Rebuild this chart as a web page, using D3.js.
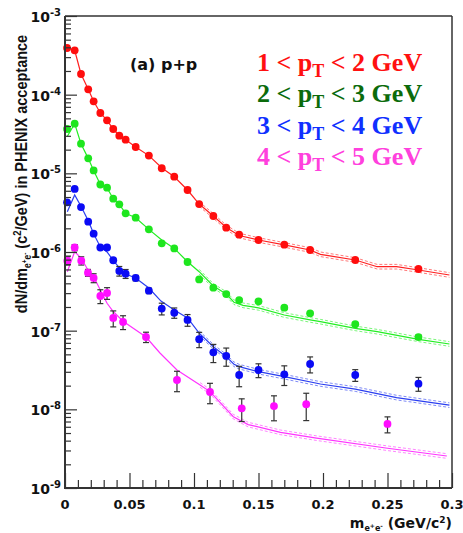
<!DOCTYPE html>
<html><head><meta charset="utf-8">
<script src="https://cdn.jsdelivr.net/npm/d3@7"></script>
<style>body{margin:0;background:#fff}svg{display:block}</style>
</head><body><svg id="c" width="463" height="533"></svg>
<script>
// ---------- data ----------
const massBins = [0.0016,0.0075,0.0124,0.018,0.0222,0.0274,0.0326,0.0374,0.0421,0.047,0.0548,0.065,0.0750,0.0847,0.095,0.104,0.115,0.125,0.135,0.15,0.17,0.19,0.225,0.274];
const redVals = [3.92e-4,3.66e-4,1.83e-4,1.17e-4,8.24e-5,5.85e-5,4.72e-5,3.66e-5,3.01e-5,2.68e-5,2.16e-5,1.68e-5,1.16e-5,9.06e-6,6.14e-6,4.07e-6,2.87e-6,2.04e-6,1.66e-6,1.42e-6,1.24e-6,1.06e-6,7.91e-7,6.08e-7];
const greenVals = [3.66e-5,4.28e-5,2.38e-5,1.55e-5,1.09e-5,7.21e-6,6.57e-6,4.76e-6,4.04e-6,3.10e-6,2.73e-6,1.94e-6,1.29e-6,1.11e-6,7.46e-7,4.48e-7,3.52e-7,2.92e-7,2.45e-7,2.36e-7,1.96e-7,1.66e-7,1.21e-7,8.3e-8];
const greenErr = [0,0,0,0,0,0,0,0,0,0,0,0,0,0,0,0.04,0.04,0.04,0.04,0.04,0.05,0.05,0.05,0.06];
const blueVals = [4.28e-6,6.33e-6,3.73e-6,2.43e-6,1.71e-6,1.14e-6,1.14e-6,7.85e-7,5.74e-7,5.30e-7,4.67e-7,3.22e-7,1.91e-7,1.69e-7,1.37e-7,7.8e-8,5.31e-8,4.77e-8,2.73e-8,3.16e-8,2.79e-8,3.77e-8,2.73e-8,2.12e-8];
const blueErr = [0,0,0,0,0,0,0.04,0.05,0.14,0.13,0.08,0.08,0.17,0.15,0.17,0.22,0.26,0.26,0.29,0.2,0.28,0.23,0.17,0.2];
const pinkMass = [0.0018,0.0075,0.0126,0.0178,0.0222,0.0274,0.0326,0.0374,0.045,0.0628,0.0868,0.1124,0.137,0.162,0.187,0.25];
const pinkVals = [7.76e-7,1.14e-6,7.76e-7,5.46e-7,4.68e-7,2.76e-7,3.01e-7,1.45e-7,1.29e-7,8.31e-8,2.36e-8,1.66e-8,1.03e-8,1.10e-8,1.16e-8,6.52e-9];
const pinkErr = [0.12,0.09,0.12,0.10,0.13,0.2,0.17,0.23,0.2,0.15,0.29,0.29,0.32,0.35,0.38,0.23];

// cocktail curves
const redLineX = [0.0004,0.0016,0.0075,0.0124,0.018,0.0222,0.0274,0.0326,0.0374,0.0421,0.047,0.0548,0.065,0.0754,0.0847,0.095,0.104,0.115,0.125,0.135,0.15,0.17,0.19,0.198,0.225,0.242,0.257,0.274,0.298];
const redLineY = [4.04e-4,3.92e-4,3.66e-4,1.83e-4,1.17e-4,8.24e-5,5.85e-5,4.72e-5,3.66e-5,3.01e-5,2.68e-5,2.16e-5,1.68e-5,1.16e-5,9.06e-6,6.14e-6,4.07e-6,2.87e-6,2.05e-6,1.62e-6,1.42e-6,1.23e-6,1.06e-6,9.35e-7,7.91e-7,6.50e-7,6.50e-7,5.90e-7,5.10e-7];
const greenLineX = [0.0016,0.0075,0.0124,0.018,0.0222,0.0274,0.0326,0.0374,0.0421,0.047,0.0548,0.065,0.075,0.0847,0.095,0.104,0.115,0.125,0.131,0.138,0.15,0.17,0.19,0.198,0.225,0.242,0.274,0.298];
const greenLineY = [2.92e-5,4.28e-5,2.38e-5,1.55e-5,1.09e-5,7.21e-6,6.5e-6,4.76e-6,4.04e-6,3.10e-6,2.73e-6,1.94e-6,1.42e-6,1.11e-6,7.53e-7,5.62e-7,3.70e-7,2.92e-7,2.3e-7,2.1e-7,1.95e-7,1.58e-7,1.37e-7,1.30e-7,1.07e-7,9.7e-8,7.76e-8,6.77e-8];
const blueLineX = [0.0018,0.0075,0.0126,0.0184,0.0222,0.0274,0.0326,0.0374,0.0421,0.047,0.0548,0.065,0.0744,0.0847,0.095,0.104,0.115,0.125,0.131,0.135,0.15,0.17,0.198,0.225,0.257,0.298];
const blueLineY = [3.25e-6,5.31e-6,3.77e-6,2.43e-6,1.71e-6,1.16e-6,1.0e-6,7.85e-7,6.27e-7,5.25e-7,4.67e-7,3.48e-7,2.38e-7,1.83e-7,1.45e-7,9.3e-8,6.25e-8,4.67e-8,3.74e-8,3.49e-8,3.01e-8,2.6e-8,2.10e-8,1.81e-8,1.41e-8,1.13e-8];
const pinkLineX = [0.0018,0.0075,0.0126,0.0178,0.0222,0.0274,0.0326,0.0374,0.045,0.0628,0.0736,0.0868,0.1047,0.1124,0.1305,0.142,0.167,0.195,0.25,0.296];
const pinkLineY = [5.62e-7,1.01e-6,8.31e-7,5.9e-7,4.85e-7,3.29e-7,2.23e-7,1.75e-7,1.32e-7,8.3e-8,5.2e-8,3.16e-8,2.04e-8,1.68e-8,8.07e-9,6.4e-9,5.1e-9,4.3e-9,3.2e-9,2.55e-9];

const xTicks = [0,0.05,0.1,0.15,0.2,0.25,0.3];
const xTickLabels = ["0","0.05","0.1","0.15","0.2","0.25","0.3"];
const yDecades = [-9,-8,-7,-6,-5,-4,-3];
const legendLabels = [["1","2"],["2","3"],["3","4"],["4","5"]];

// ---------- drawing ----------
const svg = d3.select("#c");
svg.append("rect").attr("width",463).attr("height",533).attr("fill","#fff");
const L=65,R=452,T=16,B=488;
const x = d3.scaleLinear().domain([0,0.3]).range([L,R]);
const y = d3.scaleLog().domain([1e-9,1e-3]).range([B,T]);

const series = [
  {m:massBins, v:redVals, e:null, lx:redLineX, ly:redLineY, pc:"#ff0d0d", lc:"#ff2020"},
  {m:massBins, v:greenVals, e:greenErr, lx:greenLineX, ly:greenLineY, pc:"#1ee61e", lc:"#22ee22"},
  {m:massBins, v:blueVals, e:blueErr, lx:blueLineX, ly:blueLineY, pc:"#0a0af5", lc:"#2a3ef0"},
  {m:pinkMass, v:pinkVals, e:pinkErr, lx:pinkLineX, ly:pinkLineY, pc:"#ff0dff", lc:"#ff33ff"}
];

const line = d3.line().x(d=>x(d[0])).y(d=>y(d[1]));
const gLines = svg.append("g");
series.forEach(s=>{
  const pts = s.lx.map((m,i)=>[m,s.ly[i]]);
  const band = pts.filter(d=>d[0]>=0.1);
  [1.07,1/1.07].forEach(f=>{
    gLines.append("path").attr("d",line(band.map(d=>[d[0],d[1]*f])))
      .attr("fill","none").attr("stroke",s.lc).attr("stroke-opacity",0.6)
      .attr("stroke-width",1).attr("stroke-dasharray","3,2");
  });
  gLines.append("path").attr("d",line(pts)).attr("fill","none")
    .attr("stroke",s.lc).attr("stroke-width",1.2);
});

const gErr = svg.append("g").attr("stroke","#333").attr("stroke-width",1.2);
series.forEach(s=>{
  if(!s.e) return;
  s.m.forEach((m,i)=>{
    const e=s.e[i]; if(!e) return;
    const v=s.v[i], cx=x(m), y1=y(v*(1+e)), y2=y(v*(1-e));
    gErr.append("line").attr("x1",cx).attr("x2",cx).attr("y1",y1).attr("y2",y2);
    gErr.append("line").attr("x1",cx-3).attr("x2",cx+3).attr("y1",y1).attr("y2",y1);
    gErr.append("line").attr("x1",cx-3).attr("x2",cx+3).attr("y1",y2).attr("y2",y2);
  });
});
series.forEach(s=>{
  svg.append("g").selectAll("circle").data(s.m.map((m,i)=>[m,s.v[i]])).join("circle")
    .attr("cx",d=>x(d[0])).attr("cy",d=>y(d[1])).attr("r",3.9).attr("fill",s.pc);
});

// axes
const axCol="#333";
const minorY=[];
yDecades.slice(0,-1).forEach(d=>{for(let k=2;k<=9;k++)minorY.push(k*Math.pow(10,d));});
const gy = svg.append("g").attr("transform",`translate(${L},0)`);
gy.call(d3.axisLeft(y).tickValues(yDecades.map(d=>Math.pow(10,d))).tickSize(-12).tickFormat(""));
gy.append("g").call(d3.axisLeft(y).tickValues(minorY).tickSize(-6).tickFormat(""));
gy.selectAll(".domain").remove();
gy.selectAll("line").attr("stroke",axCol).attr("stroke-width",1.2);

const minorX=d3.range(1,30).map(i=>i/100).filter(v=>Math.round(v*100)%5!==0);
const gx = svg.append("g").attr("transform",`translate(0,${B})`);
gx.call(d3.axisBottom(x).tickValues(xTicks).tickSize(-15).tickFormat(""));
gx.append("g").call(d3.axisBottom(x).tickValues(minorX).tickSize(-8).tickFormat(""));
gx.selectAll(".domain").remove();
gx.selectAll("line").attr("stroke",axCol).attr("stroke-width",1.2);

// frame
svg.append("line").attr("x1",R).attr("x2",R).attr("y1",T).attr("y2",B).attr("stroke",axCol).attr("stroke-width",1.5);
svg.append("line").attr("x1",L).attr("x2",R).attr("y1",T).attr("y2",T).attr("stroke",axCol).attr("stroke-width",1.5);
svg.append("line").attr("x1",L).attr("x2",L).attr("y1",T).attr("y2",B+1).attr("stroke",axCol).attr("stroke-width",2);
svg.append("line").attr("x1",L-1).attr("x2",R).attr("y1",B).attr("y2",B).attr("stroke",axCol).attr("stroke-width",2);

// tick labels
const font="'DejaVu Sans', sans-serif";
svg.append("g").selectAll("text").data(xTicks).join("text")
  .attr("x",d=>x(d)).attr("y",509).attr("text-anchor","middle")
  .attr("font-family",font).attr("font-weight","bold").attr("font-size",13).attr("fill","#111")
  .text((d,i)=>xTickLabels[i]);
const yl = svg.append("g").selectAll("text").data(yDecades).join("text")
  .attr("x",61).attr("y",d=>y(Math.pow(10,d))+6).attr("text-anchor","end")
  .attr("font-family",font).attr("font-weight","bold").attr("font-size",14).attr("fill","#111");
yl.append("tspan").text("10");
yl.append("tspan").attr("dy",-6).attr("font-size",10).text(d=>"-"+(-d));

// axis titles
const xt = svg.append("text").attr("x",452).attr("y",528).attr("text-anchor","end")
  .attr("font-family",font).attr("font-weight","bold").attr("font-size",14).attr("fill","#111");
xt.append("tspan").text("m");
xt.append("tspan").attr("font-size",8).attr("dy",3).text("e");
xt.append("tspan").attr("font-size",6).attr("dy",-3).text("+");
xt.append("tspan").attr("font-size",8).attr("dy",3).text("e");
xt.append("tspan").attr("font-size",6).attr("dy",-3).text("-");
xt.append("tspan").attr("dy",0).text(" (GeV/c");
xt.append("tspan").attr("font-size",9).attr("dy",-5).text("2");
xt.append("tspan").attr("dy",5).text(")");

const yt = svg.append("text").attr("transform","translate(27,174) rotate(-90) scale(1,1.2)")
  .attr("text-anchor","middle").attr("font-family","'Liberation Sans', Arial, sans-serif")
  .attr("font-weight","bold").attr("font-size",14.5).attr("fill","#111");
yt.append("tspan").text("dN/dm");
yt.append("tspan").attr("font-size",8.5).attr("dy",3).text("e");
yt.append("tspan").attr("font-size",6.5).attr("dy",-3).text("+");
yt.append("tspan").attr("font-size",8.5).attr("dy",3).text("e");
yt.append("tspan").attr("font-size",6.5).attr("dy",-3).text("-");
yt.append("tspan").attr("dy",0).text(" (c");
yt.append("tspan").attr("font-size",9.5).attr("dy",-5).text("2");
yt.append("tspan").attr("dy",5).text("/GeV) in PHENIX acceptance");

svg.append("text").attr("x",130).attr("y",70).attr("font-family",font).attr("font-weight","bold")
  .attr("font-size",16).attr("fill","#111").text("(a) p+p");

// legend
const legCols = ["#ff1010","#0b6b0b","#1030ff","#ff40dd"];
const legY = [71,102,133.5,165];
legendLabels.forEach((lab,i)=>{
  const t = svg.append("text").attr("x",257).attr("y",legY[i])
    .attr("font-family","'Liberation Serif', 'Times New Roman', serif").attr("font-weight","bold")
    .attr("font-size",26).attr("fill",legCols[i]);
  t.append("tspan").text(lab[0]+" < p");
  t.append("tspan").attr("font-size",18).attr("dy",6).text("T");
  t.append("tspan").attr("dy",-6).text(" < "+lab[1]+" GeV");
});
</script></body></html>
